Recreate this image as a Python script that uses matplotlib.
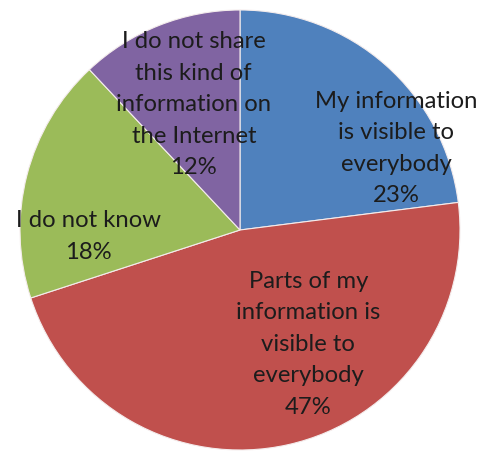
import matplotlib.pyplot as plt

# survey answers, clockwise from 12 o'clock
labels = ['My information\nis visible to\neverybody',
          'Parts of my\ninformation is\nvisible to\neverybody',
          'I do not know',
          'I do not share\nthis kind of\ninformation on\nthe Internet']
shares = [23, 47, 18, 12]
colors = ['#4F81BD', '#C0504D', '#9BBB59', '#8064A2']

# where the label block sits inside each slice (pie radius = 1)
label_pos = [(0.71, 0.37), (0.31, -0.52), (-0.69, -0.03), (-0.21, 0.57)]

fig = plt.figure(figsize=(4.82, 4.54), dpi=100)
ax = fig.add_axes([20 / 482, 4 / 454, 440 / 482, 440 / 454])

ax.pie(shares, colors=colors, startangle=90, counterclock=False, radius=1,
       wedgeprops=dict(edgecolor='#f4ecec', linewidth=0.8))

for lab, val, (x, y) in zip(labels, shares, label_pos):
    ax.text(x, y, '{}\n{}%'.format(lab, val), ha='center', va='center',
            fontsize=17.2, family=['Lato', 'DejaVu Sans'], color='#1c1c1c',
            linespacing=1.62)

ax.set_xlim(-1, 1)
ax.set_ylim(-1, 1)
ax.set_aspect('equal')
ax.axis('off')

fig.savefig('out.png', dpi=100)
